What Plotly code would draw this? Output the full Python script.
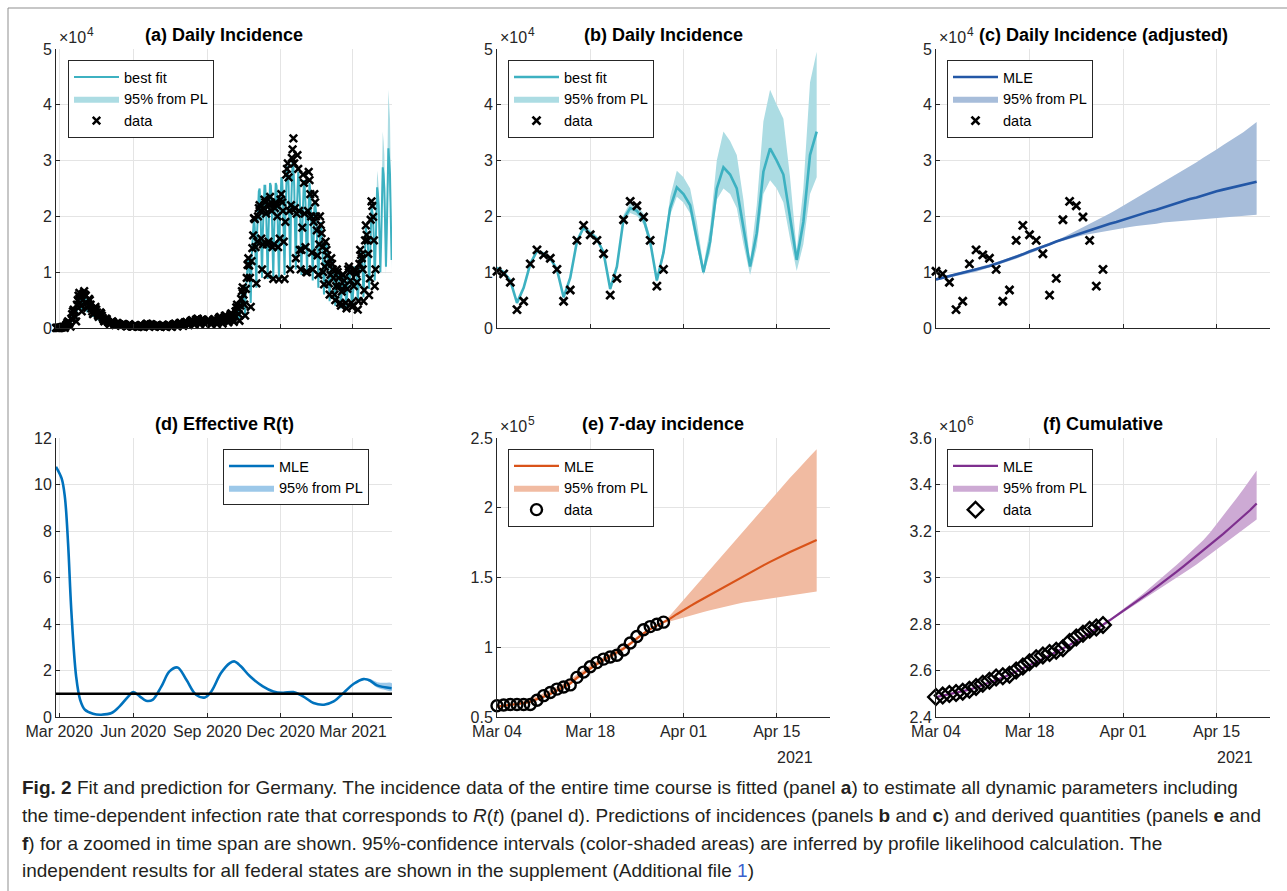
import pandas as pd
import plotly.graph_objects as go

W, H = 1287, 891
TICK_FONT = "Liberation Sans, Arial, Helvetica, sans-serif"
CAP_FONT = "Liberation Sans, Arial, sans-serif"

# ---------------- DATA ----------------
# (a) daily incidence (x1e4), Wed 26 Feb 2020 .. Wed 3 Mar 2021, rows = Mon..Sun
data_a_early = [
    0.001, 0.002, 0.003, 0.002, 0.002,
    0.006, 0.008, 0.012, 0.015, 0.020, 0.015, 0.004,
    0.04, 0.06, 0.09, 0.12, 0.10, 0.09, 0.025,
    0.17, 0.25, 0.30, 0.33, 0.29, 0.20, 0.12,
    0.42, 0.50, 0.58, 0.63, 0.55, 0.40, 0.30,
    0.50, 0.62, 0.66, 0.60, 0.58, 0.45, 0.36,
    0.40, 0.52, 0.50, 0.42, 0.35, 0.30, 0.25,
    0.26, 0.35, 0.38, 0.33, 0.28, 0.23, 0.20,
    0.22, 0.28, 0.26, 0.22, 0.18, 0.15, 0.12,
    0.14, 0.17, 0.16, 0.12, 0.10, 0.09, 0.07,
    0.09, 0.11, 0.12, 0.10, 0.08, 0.06, 0.05,
    0.08, 0.09, 0.08, 0.07, 0.06, 0.05, 0.04,
    0.06, 0.07, 0.06, 0.06, 0.05, 0.04, 0.03,
    0.04, 0.05, 0.07, 0.05, 0.04, 0.03, 0.03,
    0.03, 0.04, 0.05, 0.05, 0.04, 0.03, 0.02,
    0.03, 0.04, 0.04, 0.03, 0.03, 0.03, 0.02,
    0.04, 0.05, 0.07, 0.08, 0.06, 0.05, 0.02,
    0.06, 0.07, 0.06, 0.05, 0.04, 0.04, 0.03,
    0.04, 0.05, 0.05, 0.04, 0.03, 0.03, 0.02,
    0.04, 0.05, 0.05, 0.04, 0.03, 0.03, 0.02,
    0.04, 0.05, 0.06, 0.05, 0.04, 0.03, 0.02,
    0.05, 0.06, 0.07, 0.08, 0.06, 0.04, 0.03,
    0.06, 0.08, 0.09, 0.09, 0.07, 0.05, 0.04,
    0.08, 0.10, 0.10, 0.11, 0.09, 0.06, 0.05,
    0.09, 0.12, 0.13, 0.14, 0.12, 0.08, 0.06,
    0.12, 0.15, 0.16, 0.17, 0.14, 0.09, 0.07,
    0.13, 0.15, 0.15, 0.14, 0.12, 0.08, 0.08,
    0.10, 0.13, 0.14, 0.14, 0.12, 0.08, 0.07,
    0.10, 0.13, 0.15, 0.16, 0.13, 0.09, 0.07,
    0.13, 0.17, 0.19, 0.20, 0.17, 0.11, 0.08,
    0.15, 0.19, 0.22, 0.22, 0.18, 0.12, 0.10,
    0.17, 0.21, 0.25, 0.26, 0.23, 0.15, 0.11,
    0.22, 0.30, 0.37, 0.42, 0.36, 0.25, 0.13,
    0.40, 0.52, 0.66, 0.73, 0.60, 0.42, 0.22,
    0.70, 0.90, 1.13, 1.25, 1.12, 0.90, 0.38,
    1.20, 1.43, 1.66, 1.97, 1.95, 1.45, 0.80,
    1.55, 2.00, 2.15, 2.20, 2.10, 1.60, 1.05,
    1.50, 2.15, 2.30, 2.25, 2.05, 1.50, 0.95,
    1.55, 2.20, 2.35, 2.25, 2.10, 1.45, 0.88,
    1.50, 2.15, 2.25, 2.20, 2.00, 1.45, 0.87,
    1.60, 2.30, 2.40, 2.25, 2.10, 1.55, 0.88,
    1.90, 2.75, 2.85, 2.95, 2.70, 2.10, 1.05,
    2.20, 3.05, 3.20, 3.40, 2.95, 2.15, 1.25,
    2.05, 3.10, 2.85, 2.10, 1.40, 1.05, 1.40,
    1.80, 2.75, 2.60, 2.05, 1.45, 1.00, 1.00,
    2.10, 2.80, 2.65, 2.40, 2.00, 1.35, 1.05,
    1.90, 2.40, 2.25, 2.00, 1.75, 1.30, 0.95,
    1.50, 2.00, 1.85, 1.70, 1.45, 1.00, 0.78,
    1.10, 1.55, 1.40, 1.30, 1.15, 0.80, 0.60,
    0.95, 1.25, 1.15, 1.05, 0.90, 0.60, 0.50,
    0.75, 1.05, 1.00, 0.90, 0.75, 0.45, 0.40,
    0.65, 0.95, 0.95, 0.85, 0.75, 0.45, 0.35,
    0.70, 1.05, 1.10, 1.00, 0.85, 0.45, 0.38,
    0.40, 0.75, 1.05,
]
# best fit (x1e4), same days
fit_a_early = [
    0.003, 0.004, 0.005, 0.005, 0.004,
    0.008, 0.011, 0.015, 0.018, 0.020, 0.018, 0.012,
    0.04, 0.06, 0.08, 0.10, 0.10, 0.09, 0.05,
    0.15, 0.22, 0.28, 0.31, 0.30, 0.25, 0.16,
    0.38, 0.48, 0.55, 0.58, 0.55, 0.46, 0.30,
    0.45, 0.57, 0.60, 0.58, 0.52, 0.42, 0.28,
    0.38, 0.47, 0.47, 0.43, 0.37, 0.30, 0.20,
    0.27, 0.34, 0.34, 0.31, 0.26, 0.21, 0.14,
    0.20, 0.25, 0.24, 0.22, 0.18, 0.14, 0.10,
    0.13, 0.16, 0.15, 0.13, 0.11, 0.09, 0.06,
    0.09, 0.11, 0.11, 0.10, 0.08, 0.06, 0.04,
    0.07, 0.08, 0.08, 0.07, 0.06, 0.05, 0.03,
    0.05, 0.06, 0.06, 0.06, 0.05, 0.04, 0.03,
    0.04, 0.05, 0.05, 0.05, 0.04, 0.03, 0.02,
    0.03, 0.04, 0.04, 0.04, 0.04, 0.03, 0.02,
    0.03, 0.04, 0.04, 0.04, 0.03, 0.03, 0.02,
    0.04, 0.05, 0.06, 0.06, 0.05, 0.04, 0.03,
    0.05, 0.06, 0.06, 0.05, 0.04, 0.04, 0.02,
    0.04, 0.05, 0.05, 0.04, 0.04, 0.03, 0.02,
    0.04, 0.05, 0.05, 0.04, 0.04, 0.03, 0.02,
    0.04, 0.05, 0.05, 0.05, 0.04, 0.03, 0.02,
    0.05, 0.06, 0.07, 0.07, 0.06, 0.05, 0.03,
    0.06, 0.08, 0.08, 0.08, 0.07, 0.05, 0.04,
    0.08, 0.10, 0.10, 0.10, 0.09, 0.07, 0.04,
    0.09, 0.12, 0.13, 0.13, 0.11, 0.08, 0.05,
    0.12, 0.15, 0.16, 0.16, 0.13, 0.10, 0.06,
    0.12, 0.15, 0.15, 0.14, 0.12, 0.09, 0.06,
    0.10, 0.13, 0.14, 0.13, 0.11, 0.08, 0.05,
    0.11, 0.14, 0.15, 0.15, 0.13, 0.09, 0.06,
    0.13, 0.17, 0.18, 0.19, 0.16, 0.11, 0.07,
    0.15, 0.19, 0.21, 0.21, 0.18, 0.13, 0.08,
    0.17, 0.22, 0.25, 0.26, 0.22, 0.16, 0.10,
    0.23, 0.31, 0.37, 0.40, 0.35, 0.26, 0.15,
    0.40, 0.54, 0.65, 0.72, 0.62, 0.45, 0.25,
    0.72, 0.95, 1.15, 1.28, 1.12, 0.82, 0.45,
    1.25, 1.60, 1.85, 2.00, 1.80, 1.30, 0.72,
    1.75, 2.25, 2.45, 2.50, 2.20, 1.55, 0.90,
    1.70, 2.30, 2.55, 2.55, 2.20, 1.50, 0.88,
    1.70, 2.35, 2.60, 2.55, 2.25, 1.50, 0.88,
    1.70, 2.35, 2.60, 2.55, 2.25, 1.50, 0.90,
    1.80, 2.50, 2.70, 2.65, 2.35, 1.60, 0.95,
    2.00, 2.70, 2.90, 2.85, 2.55, 1.75, 1.05,
    2.10, 2.85, 3.00, 2.90, 2.55, 1.75, 1.05,
    2.00, 2.70, 2.80, 2.65, 2.30, 1.60, 0.95,
    1.80, 2.50, 2.65, 2.55, 2.25, 1.55, 0.95,
    1.80, 2.45, 2.60, 2.45, 2.10, 1.45, 0.85,
    1.60, 2.15, 2.25, 2.10, 1.80, 1.25, 0.72,
    1.35, 1.80, 1.90, 1.75, 1.50, 1.05, 0.60,
    1.10, 1.45, 1.55, 1.42, 1.20, 0.85, 0.48,
    0.90, 1.20, 1.25, 1.15, 0.98, 0.70, 0.40,
    0.75, 1.00, 1.05, 0.97, 0.83, 0.60, 0.35,
    0.68, 0.92, 0.97, 0.90, 0.78, 0.56, 0.34,
    0.72, 0.98, 1.03, 0.96, 0.82, 0.60, 0.36,
    0.58, 0.92, 1.10,
]

# (b) daily incidence Thu 4 Mar .. Wed 21 Apr 2021 (x1e4)
data_recent = [1.016, 0.97, 0.82, 0.33, 0.48, 1.15, 1.40, 1.31, 1.25, 1.05, 0.48, 0.68, 1.57,
               1.84, 1.67, 1.57, 1.33, 0.59, 0.89, 1.94, 2.27, 2.19, 1.99, 1.57, 0.75, 1.05]
fit_b = [1.08, 1.00, 0.85, 0.45, 0.72, 1.15, 1.38, 1.33, 1.25, 1.05, 0.55, 0.90, 1.55, 1.80, 1.70,
         1.60, 1.35, 0.70, 1.10, 1.95, 2.15, 2.10, 1.95, 1.55, 0.85, 1.35, 2.15, 2.52, 2.40, 2.20,
         1.60, 1.00, 1.55, 2.50, 2.88, 2.75, 2.50, 1.80, 1.10, 1.70, 2.80, 3.22, 3.00, 2.75, 2.00,
         1.22, 1.90, 3.10, 3.52]
fit_b_hi = [1.10, 1.02, 0.87, 0.47, 0.74, 1.18, 1.41, 1.36, 1.28, 1.08, 0.57, 0.93, 1.59, 1.85, 1.75,
            1.65, 1.40, 0.73, 1.15, 2.03, 2.25, 2.20, 2.05, 1.64, 0.90, 1.45, 2.35, 2.82, 2.70, 2.50,
            1.90, 1.12, 1.80, 3.00, 3.52, 3.35, 3.10, 2.30, 1.20, 2.20, 3.70, 4.27, 4.00, 3.75, 2.70,
            1.40, 2.50, 4.40, 4.95]
fit_b_lo = [1.06, 0.98, 0.83, 0.43, 0.70, 1.12, 1.35, 1.30, 1.22, 1.02, 0.53, 0.87, 1.51, 1.75, 1.65,
            1.55, 1.31, 0.67, 1.06, 1.88, 2.06, 2.01, 1.86, 1.47, 0.80, 1.27, 2.02, 2.35, 2.25, 2.05,
            1.45, 0.95, 1.35, 2.30, 2.50, 2.40, 2.15, 1.50, 0.95, 1.45, 2.40, 2.65, 2.50, 2.25, 1.60,
            1.02, 1.50, 2.40, 2.70]

# (c) adjusted daily incidence (x1e4)
adj_mle = [0.87, 0.90, 0.92, 0.95, 0.98, 1.01, 1.04, 1.08, 1.11, 1.15, 1.19, 1.23, 1.27, 1.32, 1.37,
           1.41, 1.46, 1.50, 1.55, 1.59, 1.64, 1.68, 1.72, 1.76, 1.79, 1.83, 1.87, 1.90, 1.94, 1.98,
           2.01, 2.05, 2.09, 2.12, 2.16, 2.20, 2.23, 2.27, 2.31, 2.34, 2.38, 2.41, 2.45, 2.48, 2.51,
           2.54, 2.57, 2.60, 2.62]
adj_hi = [0.89, 0.92, 0.94, 0.97, 1.00, 1.04, 1.07, 1.11, 1.14, 1.18, 1.22, 1.26, 1.30, 1.35, 1.40,
          1.44, 1.48, 1.52, 1.57, 1.62, 1.68, 1.74, 1.80, 1.86, 1.92, 1.98, 2.05, 2.12, 2.19, 2.26,
          2.33, 2.40, 2.47, 2.54, 2.61, 2.68, 2.76, 2.83, 2.90, 2.97, 3.05, 3.12, 3.20, 3.28, 3.35,
          3.43, 3.51, 3.60, 3.69]
adj_lo = [0.85, 0.88, 0.90, 0.93, 0.96, 0.98, 1.01, 1.05, 1.08, 1.12, 1.16, 1.20, 1.24, 1.29, 1.34,
          1.38, 1.44, 1.48, 1.53, 1.56, 1.60, 1.63, 1.66, 1.69, 1.71, 1.73, 1.75, 1.77, 1.79, 1.81,
          1.83, 1.84, 1.86, 1.87, 1.89, 1.90, 1.91, 1.92, 1.94, 1.95, 1.96, 1.97, 1.98, 1.99, 2.00,
          2.01, 2.01, 2.02, 2.03]

# (d) effective R(t)
R_dates = ["2020-02-26", "2020-03-04", "2020-03-08", "2020-03-12", "2020-03-16", "2020-03-22",
           "2020-03-27", "2020-04-02", "2020-04-12", "2020-04-22", "2020-05-05", "2020-05-15",
           "2020-05-26", "2020-06-01", "2020-06-09", "2020-06-17", "2020-06-25", "2020-07-06",
           "2020-07-16", "2020-07-26", "2020-08-06", "2020-08-18", "2020-08-29", "2020-09-06",
           "2020-09-18", "2020-09-29", "2020-10-05", "2020-10-13", "2020-10-24", "2020-11-09",
           "2020-11-22", "2020-12-04", "2020-12-17", "2020-12-29", "2021-01-11", "2021-01-24",
           "2021-02-05", "2021-02-18", "2021-03-02", "2021-03-14", "2021-03-22", "2021-03-31",
           "2021-04-18"]
R_mle = [10.76, 10.26, 9.47, 7.47, 4.60, 1.75, 0.74, 0.31, 0.14, 0.10, 0.17, 0.46, 0.89, 1.07, 0.89,
         0.70, 0.74, 1.32, 1.96, 2.13, 1.60, 0.96, 0.84, 1.10, 1.89, 2.32, 2.39, 2.17, 1.75, 1.32,
         1.10, 1.04, 1.07, 0.89, 0.60, 0.53, 0.67, 1.06, 1.43, 1.63, 1.57, 1.36, 1.24]
R_band_dates = ["2021-02-26", "2021-03-06", "2021-03-14", "2021-03-22", "2021-03-31", "2021-04-08",
                "2021-04-18"]
R_hi = [1.34, 1.55, 1.67, 1.64, 1.50, 1.47, 1.46]
R_lo = [1.32, 1.50, 1.59, 1.50, 1.27, 1.18, 1.12]
R_threshold = 1.0

# (e) 7-day incidence (x1e5)
inc7_data = [0.581, 0.586, 0.59, 0.59, 0.59, 0.59, 0.62, 0.653, 0.676, 0.70, 0.715, 0.73, 0.784,
             0.822, 0.86, 0.89, 0.915, 0.93, 0.943, 0.98, 1.03, 1.077, 1.125, 1.148, 1.165, 1.18]
inc7_mle = [0.575, 0.580, 0.585, 0.590, 0.600, 0.610, 0.625, 0.645, 0.665, 0.690, 0.715, 0.740, 0.780,
            0.815, 0.850, 0.880, 0.910, 0.935, 0.960, 0.990, 1.025, 1.065, 1.100, 1.130, 1.155, 1.178,
            1.205, 1.237, 1.268, 1.295, 1.322, 1.349, 1.376, 1.403, 1.430, 1.457, 1.484, 1.511, 1.537,
            1.562, 1.587, 1.612, 1.637, 1.660, 1.683, 1.705, 1.727, 1.748, 1.768]
inc7_hi = [0.578, 0.585, 0.592, 0.600, 0.615, 0.630, 0.648, 0.670, 0.692, 0.717, 0.742, 0.768, 0.805,
           0.840, 0.873, 0.903, 0.932, 0.956, 0.978, 1.005, 1.038, 1.077, 1.110, 1.138, 1.162, 1.182,
           1.230, 1.285, 1.340, 1.395, 1.450, 1.505, 1.560, 1.615, 1.670, 1.725, 1.780, 1.835, 1.890,
           1.945, 2.000, 2.055, 2.110, 2.165, 2.215, 2.265, 2.320, 2.370, 2.420]
inc7_lo = [0.572, 0.576, 0.580, 0.585, 0.594, 0.603, 0.617, 0.636, 0.656, 0.680, 0.706, 0.731, 0.768,
           0.803, 0.838, 0.868, 0.898, 0.922, 0.947, 0.977, 1.012, 1.053, 1.090, 1.122, 1.148, 1.172,
           1.183, 1.196, 1.210, 1.225, 1.240, 1.253, 1.266, 1.278, 1.290, 1.300, 1.310, 1.320, 1.328,
           1.336, 1.343, 1.350, 1.357, 1.364, 1.371, 1.378, 1.385, 1.392, 1.400]

# (f) cumulative (x1e6)
cum_data = [2.486, 2.492, 2.499, 2.503, 2.509, 2.517, 2.529, 2.543, 2.556, 2.570, 2.575, 2.582, 2.600,
            2.617, 2.636, 2.653, 2.665, 2.675, 2.685, 2.696, 2.723, 2.742, 2.758, 2.775, 2.785, 2.796]
cum_mle = [2.485, 2.491, 2.497, 2.503, 2.510, 2.518, 2.527, 2.537, 2.548, 2.559, 2.570, 2.582, 2.595,
           2.609, 2.623, 2.637, 2.651, 2.665, 2.679, 2.694, 2.710, 2.727, 2.744, 2.761, 2.779, 2.797,
           2.816, 2.836, 2.855, 2.875, 2.896, 2.917, 2.937, 2.959, 2.980, 3.002, 3.024, 3.047, 3.070,
           3.093, 3.116, 3.140, 3.164, 3.188, 3.213, 3.238, 3.263, 3.289, 3.318]
cum_hi = [2.488, 2.494, 2.500, 2.506, 2.513, 2.521, 2.530, 2.540, 2.551, 2.562, 2.573, 2.585, 2.598,
          2.612, 2.626, 2.640, 2.654, 2.668, 2.682, 2.697, 2.713, 2.730, 2.747, 2.764, 2.782, 2.800,
          2.820, 2.841, 2.862, 2.884, 2.907, 2.930, 2.954, 2.978, 3.003, 3.028, 3.054, 3.080, 3.106,
          3.133, 3.160, 3.193, 3.229, 3.266, 3.303, 3.341, 3.380, 3.420, 3.460]
cum_lo = [2.482, 2.488, 2.494, 2.500, 2.507, 2.515, 2.524, 2.534, 2.545, 2.556, 2.567, 2.579, 2.592,
          2.606, 2.620, 2.634, 2.648, 2.662, 2.676, 2.691, 2.707, 2.724, 2.741, 2.758, 2.776, 2.794,
          2.812, 2.830, 2.848, 2.866, 2.885, 2.904, 2.923, 2.942, 2.961, 2.980, 2.999, 3.018, 3.037,
          3.056, 3.075, 3.096, 3.118, 3.140, 3.162, 3.184, 3.206, 3.228, 3.250]

long_ticks = ["2020-03-01", "2020-06-01", "2020-09-01", "2020-12-01", "2021-03-01"]
long_labels = ["Mar 2020", "Jun 2020", "Sep 2020", "Dec 2020", "Mar 2021"]
short_ticks = ["2021-03-04", "2021-03-18", "2021-04-01", "2021-04-15"]
short_labels = ["Mar 04", "Mar 18", "Apr 01", "Apr 15"]

# ---------------- helpers ----------------
def fx(px):
    return px / W


def fy(py):
    return 1 - py / H


def days(start, n):
    return pd.date_range(start, periods=n, freq="D").strftime("%Y-%m-%d").tolist()


def band(xs, hi, lo):
    return list(xs) + list(xs)[::-1], list(hi) + list(lo)[::-1]


TEAL, TEAL_B = "#3DB1C1", "#ACDCE3"
NAVY, NAVY_B = "#2357A6", "#A7BDDA"
BLUE, BLUE_B = "#0072BD", "#9CC8E9"
ORNG, ORNG_B = "#D95319", "#F1BBA2"
PURP, PURP_B = "#7E2F8E", "#CDAAD4"

XMARK_A = dict(symbol="x-thin", size=7.5, color="black", line=dict(width=2.5, color="black"))
XMARK = dict(symbol="x-thin", size=8, color="black", line=dict(width=2.7, color="black"))

fig = go.Figure()

# ---- (a)
fit_a = fit_a_early + fit_b[:46]
data_a = data_a_early + data_recent
x_fit_a = days("2020-02-26", len(fit_a))
x_data_a = days("2020-02-26", len(data_a))
x_pred = days("2021-03-04", len(fit_b))
bx, by = band(x_pred[:46], fit_b_hi[:46], fit_b_lo[:46])
fig.add_trace(go.Scatter(x=bx, y=by, fill="toself", fillcolor=TEAL_B, line=dict(width=0), mode="lines",
                         name="95% from PL", legend="legend", legendrank=2, xaxis="x", yaxis="y"))
fig.add_trace(go.Scatter(x=x_fit_a, y=fit_a, mode="lines", line=dict(color=TEAL, width=2),
                         name="best fit", legend="legend", legendrank=1, xaxis="x", yaxis="y"))
fig.add_trace(go.Scatter(x=x_data_a, y=data_a, mode="markers", cliponaxis=False, marker=XMARK_A,
                         name="data", legend="legend", legendrank=3, xaxis="x", yaxis="y"))

# ---- (b)
x_rec = days("2021-03-04", len(data_recent))
bx, by = band(x_pred, fit_b_hi, fit_b_lo)
fig.add_trace(go.Scatter(x=bx, y=by, fill="toself", fillcolor=TEAL_B, line=dict(width=0), mode="lines",
                         name="95% from PL", legend="legend2", legendrank=2, xaxis="x2", yaxis="y2"))
fig.add_trace(go.Scatter(x=x_pred, y=fit_b, mode="lines", line=dict(color=TEAL, width=2.6),
                         name="best fit", legend="legend2", legendrank=1, xaxis="x2", yaxis="y2"))
fig.add_trace(go.Scatter(x=x_rec, y=data_recent, mode="markers", cliponaxis=False, marker=XMARK,
                         name="data", legend="legend2", legendrank=3, xaxis="x2", yaxis="y2"))

# ---- (c)
bx, by = band(x_pred, adj_hi, adj_lo)
fig.add_trace(go.Scatter(x=bx, y=by, fill="toself", fillcolor=NAVY_B, line=dict(width=0), mode="lines",
                         name="95% from PL", legend="legend3", legendrank=2, xaxis="x3", yaxis="y3"))
fig.add_trace(go.Scatter(x=x_pred, y=adj_mle, mode="lines", line=dict(color=NAVY, width=2.6),
                         name="MLE", legend="legend3", legendrank=1, xaxis="x3", yaxis="y3"))
fig.add_trace(go.Scatter(x=x_rec, y=data_recent, mode="markers", cliponaxis=False, marker=XMARK,
                         name="data", legend="legend3", legendrank=3, xaxis="x3", yaxis="y3"))

# ---- (d)
bx, by = band(R_band_dates, R_hi, R_lo)
fig.add_trace(go.Scatter(x=bx, y=by, fill="toself", fillcolor=BLUE_B, line=dict(width=0, shape="spline"),
                         mode="lines", name="95% from PL", legend="legend4", legendrank=2,
                         xaxis="x4", yaxis="y4"))
fig.add_trace(go.Scatter(x=R_dates, y=R_mle, mode="lines", line=dict(color=BLUE, width=2.6, shape="spline"),
                         name="MLE", legend="legend4", legendrank=1, xaxis="x4", yaxis="y4"))
fig.add_shape(type="line", xref="x4 domain", x0=0, x1=1, yref="y4", y0=R_threshold, y1=R_threshold,
              line=dict(color="black", width=2.5))

# ---- (e)
bx, by = band(x_pred, inc7_hi, inc7_lo)
fig.add_trace(go.Scatter(x=bx, y=by, fill="toself", fillcolor=ORNG_B, line=dict(width=0), mode="lines",
                         name="95% from PL", legend="legend5", legendrank=2, xaxis="x5", yaxis="y5"))
fig.add_trace(go.Scatter(x=x_pred, y=inc7_mle, mode="lines", line=dict(color=ORNG, width=2.2),
                         name="MLE", legend="legend5", legendrank=1, xaxis="x5", yaxis="y5"))
fig.add_trace(go.Scatter(x=x_rec, y=inc7_data, mode="markers", cliponaxis=False,
                         marker=dict(symbol="circle-open", size=11, color="black",
                                     line=dict(width=2.4, color="black")),
                         name="data", legend="legend5", legendrank=3, xaxis="x5", yaxis="y5"))

# ---- (f)
bx, by = band(x_pred, cum_hi, cum_lo)
fig.add_trace(go.Scatter(x=bx, y=by, fill="toself", fillcolor=PURP_B, line=dict(width=0), mode="lines",
                         name="95% from PL", legend="legend6", legendrank=2, xaxis="x6", yaxis="y6"))
fig.add_trace(go.Scatter(x=x_pred, y=cum_mle, mode="lines", line=dict(color=PURP, width=2.2),
                         name="MLE", legend="legend6", legendrank=1, xaxis="x6", yaxis="y6"))
fig.add_trace(go.Scatter(x=x_rec, y=cum_data, mode="markers", cliponaxis=False,
                         marker=dict(symbol="diamond-open", size=12, color="black",
                                     line=dict(width=2.4, color="black")),
                         name="data", legend="legend6", legendrank=3, xaxis="x6", yaxis="y6"))

# ---------------- layout ----------------
common = dict(showline=True, linecolor="#262626", linewidth=1, ticks="inside", ticklen=4,
              tickcolor="#262626", showgrid=True, gridcolor="#e4e4e4", gridwidth=1, zeroline=False,
              mirror=False, automargin=False,
              tickfont=dict(family=TICK_FONT, size=16, color="#262626"))

COLS = [(56, 392), (497, 830), (936, 1270)]
ROWS = [(49, 328), (438, 717)]


def xdom(c):
    return [fx(COLS[c][0]), fx(COLS[c][1])]


def ydom(r):
    return [fy(ROWS[r][1]), fy(ROWS[r][0])]


long_range = ["2020-02-26", "2021-04-18 12:00"]
short_range = ["2021-03-04", "2021-04-23"]

lay = dict(
    width=W, height=H, template="none",
    margin=dict(l=0, r=0, t=0, b=0, pad=0),
    paper_bgcolor="white", plot_bgcolor="white",
    font=dict(family=TICK_FONT, size=15, color="#262626"),
    xaxis=dict(domain=xdom(0), anchor="y", type="date", range=long_range, tickvals=long_ticks,
               showticklabels=False, **common),
    yaxis=dict(domain=ydom(0), anchor="x", range=[0, 5], dtick=1, **common),
    xaxis2=dict(domain=xdom(1), anchor="y2", type="date", range=short_range, tickvals=short_ticks,
                showticklabels=False, **common),
    yaxis2=dict(domain=ydom(0), anchor="x2", range=[0, 5], dtick=1, **common),
    xaxis3=dict(domain=xdom(2), anchor="y3", type="date", range=short_range, tickvals=short_ticks,
                showticklabels=False, **common),
    yaxis3=dict(domain=ydom(0), anchor="x3", range=[0, 5], dtick=1, **common),
    xaxis4=dict(domain=xdom(0), anchor="y4", type="date", range=long_range, tickvals=long_ticks,
                ticktext=long_labels, **common),
    yaxis4=dict(domain=ydom(1), anchor="x4", range=[0, 12], dtick=2, **common),
    xaxis5=dict(domain=xdom(1), anchor="y5", type="date", range=short_range, tickvals=short_ticks,
                ticktext=short_labels, **common),
    yaxis5=dict(domain=ydom(1), anchor="x5", range=[0.5, 2.5], dtick=0.5, **common),
    xaxis6=dict(domain=xdom(2), anchor="y6", type="date", range=short_range, tickvals=short_ticks,
                ticktext=short_labels, **common),
    yaxis6=dict(domain=ydom(1), anchor="x6", range=[2.4, 3.6], dtick=0.2, **common),
)


def legend_at(px, py):
    return dict(x=fx(px), y=fy(py), xanchor="left", yanchor="top", bgcolor="white",
                bordercolor="#262626", borderwidth=1, itemwidth=45, tracegroupgap=0,
                traceorder="normal", font=dict(family=TICK_FONT, size=14.5, color="black"))


lay["legend"] = legend_at(68, 60)
lay["legend2"] = legend_at(508, 60)
lay["legend3"] = legend_at(947, 60)
lay["legend4"] = legend_at(223, 449)
lay["legend5"] = legend_at(508, 449)
lay["legend6"] = legend_at(947, 449)
fig.update_layout(**lay)

# titles
titles = ["(a) Daily Incidence", "(b) Daily Incidence", "(c) Daily Incidence (adjusted)",
          "(d) Effective R(t)", "(e) 7-day incidence", "(f) Cumulative"]
title_y = [35, 424]
for i, t in enumerate(titles):
    c, r = i % 3, i // 3
    fig.add_annotation(x=fx((COLS[c][0] + COLS[c][1]) / 2), y=fy(title_y[r]), xref="paper", yref="paper",
                       text=t, showarrow=False, xanchor="center", yanchor="middle",
                       font=dict(family=TICK_FONT, size=18, color="black", weight="bold"))

# exponent labels: "x10" plus a raised, smaller power digit
exps = [(0, 0, "4"), (1, 0, "4"), (2, 0, "4"), (1, 1, "5"), (2, 1, "6")]
for c, r, e in exps:
    fig.add_annotation(x=fx(COLS[c][0] + 1), y=fy(ROWS[r][0] - 1), xref="paper", yref="paper",
                       text="\u00d710", showarrow=False, xanchor="left", yanchor="bottom",
                       font=dict(family=TICK_FONT, size=16, color="#262626"))
    fig.add_annotation(x=fx(COLS[c][0] + 29), y=fy(ROWS[r][0] - 8), xref="paper", yref="paper",
                       text=e, showarrow=False, xanchor="left", yanchor="bottom",
                       font=dict(family=TICK_FONT, size=12, color="#262626"))

# year labels
for c in (1, 2):
    fig.add_annotation(x=fx(COLS[c][1] - 15), y=fy(757), xref="paper", yref="paper", text="2021",
                       showarrow=False, xanchor="right", yanchor="middle",
                       font=dict(family=TICK_FONT, size=16, color="#262626"))

# caption
caption = [
    "<b>Fig. 2</b> Fit and prediction for Germany. The incidence data of the entire time course is fitted "
    "(panel <b>a</b>) to estimate all dynamic parameters including",
    "the time-dependent infection rate that corresponds to <i>R</i>(<i>t</i>) (panel d). Predictions of "
    "incidences (panels <b>b</b> and <b>c</b>) and derived quantities (panels <b>e</b> and",
    "<b>f</b>) for a zoomed in time span are shown. 95%-confidence intervals (color-shaded areas) are "
    "inferred by profile likelihood calculation. The",
    "independent results for all federal states are shown in the supplement (Additional file "
    "<span style='color:#3a5fcd'>1</span>)",
]
cap_y = [787, 815, 843, 870]
for t, yy in zip(caption, cap_y):
    fig.add_annotation(x=fx(20), y=fy(yy), xref="paper", yref="paper", text=t, showarrow=False,
                       xanchor="left", yanchor="middle", align="left",
                       font=dict(family=CAP_FONT, size=19, color="#231f20"))

# frame
fig.add_shape(type="line", xref="paper", yref="paper", x0=fx(8), x1=1, y0=fy(8), y1=fy(8),
              line=dict(color="#8f8f8f", width=1))
fig.add_shape(type="line", xref="paper", yref="paper", x0=fx(8), x1=fx(8), y0=fy(8), y1=0,
              line=dict(color="#8f8f8f", width=1))

fig.write_html("out.html", config={"displayModeBar": False},
               post_script="document.body.style.margin='0';document.body.style.overflow='hidden';")
